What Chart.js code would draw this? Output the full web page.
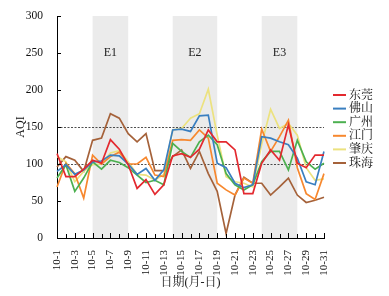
<!DOCTYPE html>
<html>
<head>
<meta charset="utf-8">
<script src="https://cdn.jsdelivr.net/npm/chart.js@4.4.1/dist/chart.umd.min.js"></script>
<style>
  html, body { margin: 0; padding: 0; background: #fff; }
  #wrap { width: 389px; height: 296px; }
</style>
</head>
<body>
<div id="wrap"><canvas id="chart"></canvas></div>
<script>
// dates (categories)
const dates = ["10-1","10-2","10-3","10-4","10-5","10-6","10-7","10-8","10-9","10-10",
  "10-11","10-12","10-13","10-14","10-15","10-16","10-17","10-18","10-19","10-20",
  "10-21","10-22","10-23","10-24","10-25","10-26","10-27","10-28","10-29","10-30","10-31"];

// AQI per city
const dongguan  = [114, 83, 83, 93, 105, 101, 133, 120, 99, 67, 79, 59, 72, 111, 114, 109, 120, 146, 130, 130, 119, 60, 60, 101, 119, 105, 153, 101, 95, 112, 112];
const foshan    = [90, 99, 86, 92, 103, 104, 112, 111, 100, 86, 94, 78, 92, 146, 147, 144, 165, 166, 101, 95, 74, 68, 72, 137, 135, 130, 126, 108, 76, 72, 117];
const guangzhou = [81, 99, 63, 81, 103, 93, 105, 102, 95, 85, 75, 78, 72, 128, 117, 109, 130, 139, 126, 87, 72, 65, 72, 103, 117, 117, 92, 132, 103, 93, 101];
const jiangmen  = [69, 101, 87, 54, 112, 100, 110, 116, 100, 100, 109, 85, 83, 132, 133, 132, 146, 135, 74, 65, 58, 81, 74, 147, 117, 137, 159, 95, 60, 52, 87];
const zhaoqing  = [110, 103, 76, 90, 99, 100, 115, 118, 103, 86, 85, 78, 86, 146, 148, 162, 168, 201, 139, 83, 76, 74, 69, 127, 174, 148, 155, 139, 95, 78, 80];
const zhuhai    = [96, 110, 105, 90, 132, 135, 168, 162, 141, 130, 141, 91, 91, 110, 119, 94, 117, 87, 63, 6, 58, 82, 74, 74, 58, 69, 81, 58, 48, 51, 55];

const cities = ["东莞", "佛山", "广州", "江门", "肇庆", "珠海"];
const colors = ["#e3292f", "#3a7fc0", "#4cb050", "#f7882f", "#ece27f", "#a5623a"];

// pollution episodes (shaded bands)
const episodeNames = ["E1", "E2", "E3"];
const episodeStart = ["10-5", "10-14", "10-24"];
const episodeEnd   = ["10-9", "10-19", "10-28"];

// reference lines
const refLines = [100, 150];

const yTicks = [0, 50, 100, 150, 200, 250, 300];

const serif = "'Liberation Serif', 'Times New Roman', 'Noto Serif CJK SC', 'Noto Sans CJK SC', serif";

const bandsPlugin = {
  id: "bands",
  beforeDatasetsDraw(chart) {
    const { ctx, chartArea } = chart;
    const x = chart.scales.x, y = chart.scales.y;
    ctx.save();
    episodeNames.forEach((name, i) => {
      const x1 = x.getPixelForValue(dates.indexOf(episodeStart[i]));
      const x2 = x.getPixelForValue(dates.indexOf(episodeEnd[i]));
      ctx.fillStyle = "#ebebeb";
      ctx.fillRect(x1, chartArea.top, x2 - x1, chartArea.bottom - chartArea.top);
      ctx.fillStyle = "#222";
      ctx.font = "12px " + serif;
      ctx.textAlign = "center";
      ctx.textBaseline = "middle";
      ctx.fillText(name, (x1 + x2) / 2, y.getPixelForValue(250));
    });
    // dashed reference lines
    ctx.strokeStyle = "#222";
    ctx.lineWidth = 0.8;
    ctx.setLineDash([2, 1.5]);
    refLines.forEach(v => {
      const py = Math.round(y.getPixelForValue(v)) + 0.5;
      ctx.beginPath();
      ctx.moveTo(chartArea.left, py);
      ctx.lineTo(chartArea.right, py);
      ctx.stroke();
    });
    ctx.restore();
  },
  afterDraw(chart) {
    const { ctx, chartArea } = chart;
    const x = chart.scales.x, y = chart.scales.y;
    ctx.save();
    // inward tick marks
    ctx.strokeStyle = "#000";
    ctx.lineWidth = 1;
    ctx.beginPath();
    yTicks.forEach(v => {
      const py = Math.round(y.getPixelForValue(v)) + 0.5;
      ctx.moveTo(chartArea.left, py);
      ctx.lineTo(chartArea.left + 4, py);
    });
    dates.forEach((d, i) => {
      const px = Math.round(x.getPixelForValue(i)) + 0.5;
      ctx.moveTo(px, chartArea.bottom);
      ctx.lineTo(px, chartArea.bottom - (i % 2 === 0 ? 5 : 4));
    });
    ctx.stroke();

    // legend on the right
    const rowH = 13.6;
    const mid = (chartArea.top + chartArea.bottom) / 2 + 2;
    const y0 = mid - rowH * (cities.length - 1) / 2;
    const lx = chartArea.right + 9;
    ctx.font = "12px " + serif;
    ctx.textAlign = "left";
    ctx.textBaseline = "middle";
    cities.forEach((c, i) => {
      const ly = y0 + i * rowH;
      ctx.strokeStyle = colors[i];
      ctx.lineWidth = 2;
      ctx.beginPath();
      ctx.moveTo(lx, ly);
      ctx.lineTo(lx + 13, ly);
      ctx.stroke();
      ctx.fillStyle = "#111";
      ctx.fillText(c, lx + 16, ly + 0.5);
    });
    ctx.restore();
  }
};

const series = [dongguan, foshan, guangzhou, jiangmen, zhaoqing, zhuhai];

new Chart(document.getElementById("chart"), {
  type: "line",
  data: {
    labels: dates,
    datasets: series.map((s, i) => ({
      label: cities[i],
      data: s,
      borderColor: colors[i],
      backgroundColor: colors[i],
      borderWidth: 1.7,
      pointRadius: 0,
      tension: 0,
      fill: false
    }))
  },
  options: {
    responsive: true,
    maintainAspectRatio: false,
    animation: false,
    devicePixelRatio: 1,
    layout: { padding: { top: 16, right: 65, left: 0, bottom: 0 } },
    plugins: { legend: { display: false }, tooltip: { enabled: false } },
    scales: {
      x: {
        grid: { display: false },
        border: { display: true, color: "#000", width: 1 },
        ticks: {
          autoSkip: false,
          minRotation: 90,
          maxRotation: 90,
          padding: 4,
          color: "#111",
          font: { family: serif, size: 11 },
          callback: (v, i) => (i % 2 === 0 ? dates[i] : "")
        },
        title: {
          display: true,
          text: "日期(月-日)",
          color: "#111",
          font: { family: serif, size: 12 },
          padding: { top: 0, bottom: 6 }
        },
        afterFit: s => { s.height = 58; }
      },
      y: {
        min: 0,
        max: 300,
        grid: { display: false },
        border: { display: true, color: "#000", width: 1 },
        ticks: {
          stepSize: 50,
          padding: 6,
          color: "#111",
          font: { family: serif, size: 11.5 }
        },
        title: {
          display: true,
          text: "AQI",
          color: "#111",
          font: { family: serif, size: 12 },
          padding: { top: 14, bottom: 0 }
        },
        afterFit: s => { s.width = 57; }
      }
    }
  },
  plugins: [bandsPlugin]
});
</script>
</body>
</html>
